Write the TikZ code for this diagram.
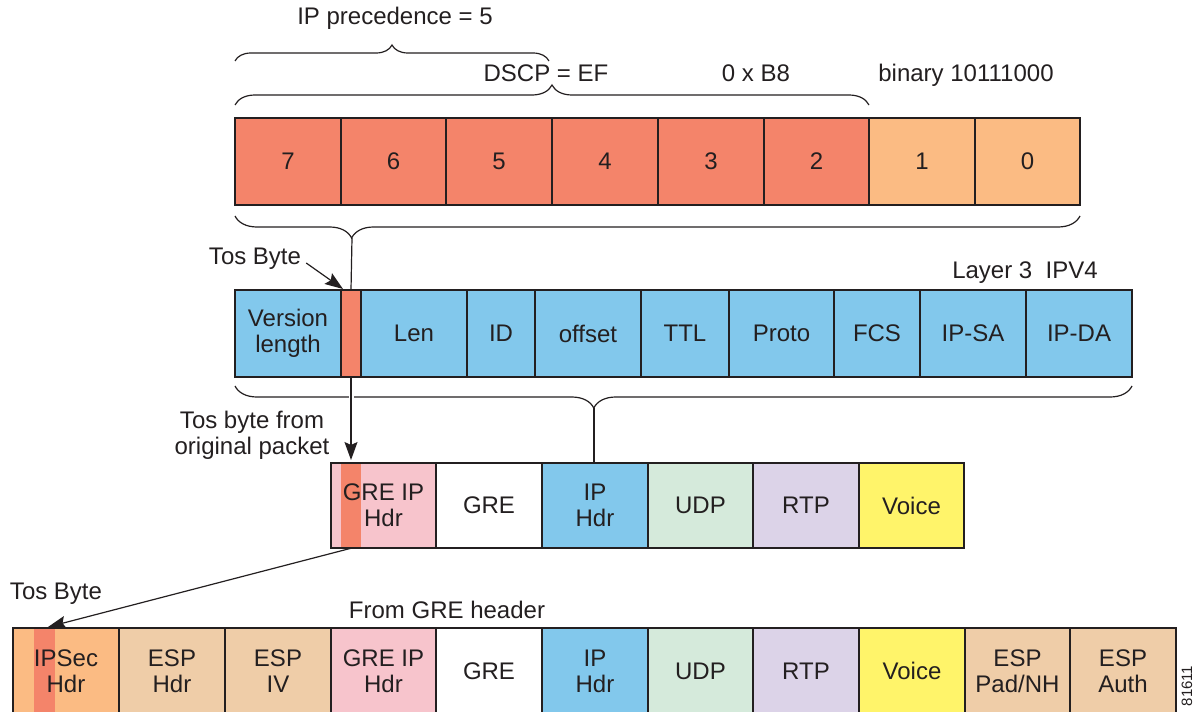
\documentclass[tikz,border=0pt]{standalone}
\usepackage{fontspec}
\setmainfont{Liberation Sans}
\usetikzlibrary{decorations.pathreplacing,arrows.meta,calc}
\definecolor{salmon}{HTML}{F4846A}
\definecolor{lorange}{HTML}{FBBB83}
\definecolor{ipblue}{HTML}{82C8EC}
\definecolor{pinkc}{HTML}{F7C4CC}
\definecolor{tanc}{HTML}{EFCDA8}
\definecolor{lgreen}{HTML}{D5EADB}
\definecolor{lav}{HTML}{DCD3E8}
\definecolor{yel}{HTML}{FFF46A}
\definecolor{ink}{HTML}{231F20}
\newcommand\cellbox[8]{%
  \node[cell,fill=#6,minimum width={(#3-#2)*1pt},minimum height={(#5-#4)*1pt},#8] (#1) at ({(#2+#3)/2},{(#4+#5)/2}) {#7};}
\begin{document}
\begin{tikzpicture}[x=1pt,y=-1pt,
  every node/.style={text=ink,font=\fontsize{24}{26}\selectfont},
  cell/.style={draw=ink,line width=1.2pt,inner sep=0pt,outer sep=0pt,align=center},
  strip/.style n args={2}{path picture={\fill[salmon] ([xshift=#1]path picture bounding box.north west) rectangle ([xshift=#1+#2]path picture bounding box.south west);}},
  lbl/.style={inner sep=0pt,align=center},
  conn/.style={draw=ink,line width=1.2pt},
  arr/.style={conn,-{Stealth[length=18pt,width=13pt,inset=3pt]}},
  bracetop/.style={conn,decorate,decoration={brace,amplitude=#1}},
  bracebot/.style n args={2}{conn,decorate,decoration={brace,mirror,amplitude=#1,aspect=#2}}]
\useasboundingbox (0,0) rectangle (1195,712);

% ---- top row: bits ----
\cellbox{b7}{235}{341}{118}{205}{salmon}{7}{}
\cellbox{b6}{341}{446}{118}{205}{salmon}{6}{}
\cellbox{b5}{446}{552}{118}{205}{salmon}{5}{}
\cellbox{b4}{552}{658}{118}{205}{salmon}{4}{}
\cellbox{b3}{658}{764}{118}{205}{salmon}{3}{}
\cellbox{b2}{764}{869}{118}{205}{salmon}{2}{}
\cellbox{b1}{869}{975}{118}{205}{lorange}{1}{}
\cellbox{b0}{975}{1080}{118}{205}{lorange}{0}{}

% braces above
\draw[bracetop=16pt] (235,61) -- (549,61);
\draw[bracetop=20pt] (235,105) -- (869,105);
\node[lbl] (ipprec) at (395,18) {IP precedence = 5};
\node[lbl] (dscp) at (546,73) {DSCP = EF};
\node[lbl] (hex) at (756,73) {0 x B8};
\node[lbl] (bin) at (966,75) {binary 10111000};

% ---- IPv4 row ----
\cellbox{ver}{235}{341}{290}{377}{ipblue}{Version\\length}{}
\cellbox{tos}{341}{361}{290}{377}{salmon}{}{}
\cellbox{len}{361}{467}{290}{377}{ipblue}{Len}{}
\cellbox{id}{467}{535}{290}{377}{ipblue}{ID}{}
\cellbox{off}{535}{641}{290}{377}{ipblue}{offset}{}
\cellbox{ttl}{641}{729}{290}{377}{ipblue}{TTL}{}
\cellbox{proto}{729}{834}{290}{377}{ipblue}{Proto}{}
\cellbox{fcs}{834}{920}{290}{377}{ipblue}{FCS}{}
\cellbox{ipsa}{920}{1026}{290}{377}{ipblue}{IP-SA}{}
\cellbox{ipda}{1026}{1132}{290}{377}{ipblue}{IP-DA}{}
\node[lbl] (l3) at (1025,273) {Layer 3~ IPV4};

% brace under bits -> tos
\draw[bracebot={22pt}{0.138}] (235,216) -- (1080,216);
\coordinate (bt) at (352,238);
\draw[conn] (bt) -- (tos.north);
\node[lbl] (tosl1) at (255,259) {Tos Byte};
\draw[arr] (tosl1.east) ++(5,4) -- ([xshift=2pt,yshift=1pt]tos.north west);

% ---- middle row ----
\cellbox{greip}{331}{436}{463}{548}{pinkc}{GRE IP\\Hdr}{strip={10pt}{20pt}}
\cellbox{gre}{436}{542}{463}{548}{white}{GRE}{}
\cellbox{iph}{542}{648}{463}{548}{ipblue}{IP\\Hdr}{}
\cellbox{udp}{648}{753}{463}{548}{lgreen}{UDP}{}
\cellbox{rtp}{753}{859}{463}{548}{lav}{RTP}{}
\cellbox{voice}{859}{964}{463}{548}{yel}{Voice}{}

% brace under IPv4 -> IP Hdr
\draw[bracebot={22pt}{0.40}] (235,386) -- (1132,386);
\coordinate (bt2) at (594,408);
\draw[conn] (bt2) -- (iph.north -| bt2);

\coordinate (tosm) at ([xshift=20pt]greip.north west);
\draw[white,line width=5pt] (tos.south) ++(0,12) -- ++(0,40);
\draw[arr,shorten >=3pt] (tos.south) -- (tosm);
\node[lbl] (tosl2) at (252,435) {Tos byte from\\original packet};

% ---- bottom row ----
\cellbox{ipsec}{13}{119}{628}{714}{lorange}{IPSec\\Hdr}{strip={21pt}{21pt}}
\cellbox{esph}{119}{225}{628}{714}{tanc}{ESP\\Hdr}{}
\cellbox{espiv}{225}{331}{628}{714}{tanc}{ESP\\IV}{}
\cellbox{greip2}{331}{436}{628}{714}{pinkc}{GRE IP\\Hdr}{}
\cellbox{gre2}{436}{542}{628}{714}{white}{GRE}{}
\cellbox{iph2}{542}{648}{628}{714}{ipblue}{IP\\Hdr}{}
\cellbox{udp2}{648}{753}{628}{714}{lgreen}{UDP}{}
\cellbox{rtp2}{753}{859}{628}{714}{lav}{RTP}{}
\cellbox{voice2}{859}{965}{628}{714}{yel}{Voice}{}
\cellbox{esppad}{965}{1070}{628}{714}{tanc}{ESP\\Pad/NH}{}
\cellbox{espauth}{1070}{1176}{628}{714}{tanc}{ESP\\Auth}{}

\coordinate (tosb) at ([xshift=35pt,yshift=1pt]ipsec.north west);
\draw[arr] ([xshift=21pt]greip.south west) -- (tosb);
\node[lbl] (tosl3) at (56,594) {Tos Byte};
\node[lbl] (fromgre) at (447,610) {From GRE header};
\node[lbl,rotate=90,font=\fontsize{15}{16}\selectfont] (fig) at (1187,686) {81611};
\end{tikzpicture}
\end{document}
